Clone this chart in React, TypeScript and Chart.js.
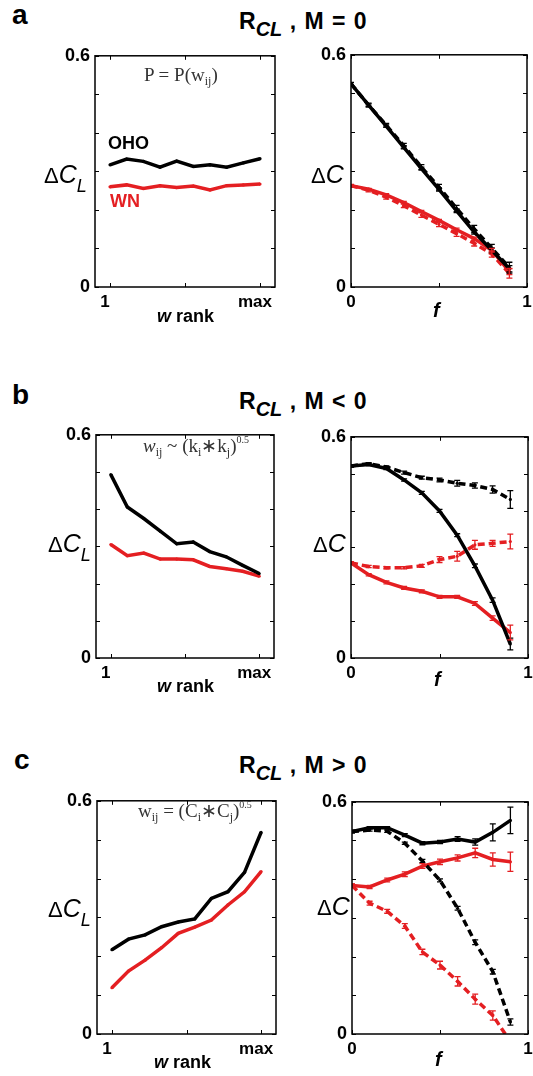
import React, { useEffect, useRef } from 'react';
import { Chart, registerables } from 'chart.js';

Chart.register(...registerables);

// ---------------- data ----------------
const RANK = [1, 2, 3, 4, 5, 6, 7, 8, 9, 10];
const FRAC = [0, 0.1, 0.2, 0.3, 0.4, 0.5, 0.6, 0.7, 0.8, 0.9];

const Y_TICKS = [0, 0.1, 0.2, 0.3, 0.4, 0.5, 0.6];
const Y_TICK_LABELS = ['0', '', '', '', '', '', '0.6'];
const RANK_TICKS = [1, 5.5, 10];
const RANK_TICK_LABELS = ['1', '', 'max'];
const F_TICKS = [0, 0.5, 1];
const F_TICK_LABELS = ['0', '', '1'];

// panel a (M = 0)
const A_RANK_OHO = [0.317, 0.332, 0.326, 0.311, 0.327, 0.313, 0.317, 0.311, 0.322, 0.333];
const A_RANK_WN = [0.26, 0.265, 0.256, 0.263, 0.258, 0.262, 0.252, 0.263, 0.265, 0.267];
const A_F_OHO_DASH = [0.525, 0.47, 0.418, 0.365, 0.31, 0.258, 0.203, 0.15, 0.1, 0.05];
const A_F_OHO_DASH_ERR = [0.004, 0.005, 0.005, 0.006, 0.006, 0.007, 0.008, 0.009, 0.01, 0.014];
const A_F_OHO_SOLID = [0.525, 0.47, 0.416, 0.361, 0.306, 0.252, 0.197, 0.142, 0.095, 0.047];
const A_F_OHO_SOLID_ERR = [0.003, 0.003, 0.003, 0.004, 0.004, 0.004, 0.005, 0.005, 0.006, 0.008];
const A_F_WN_DASH = [0.262, 0.25, 0.232, 0.21, 0.186, 0.162, 0.138, 0.113, 0.085, 0.035];
const A_F_WN_DASH_ERR = [0.003, 0.004, 0.005, 0.005, 0.006, 0.006, 0.007, 0.007, 0.008, 0.012];
const A_F_WN_SOLID = [0.262, 0.253, 0.238, 0.218, 0.195, 0.172, 0.148, 0.125, 0.095, 0.04];
const A_F_WN_SOLID_ERR = [0.002, 0.002, 0.003, 0.003, 0.003, 0.003, 0.004, 0.004, 0.005, 0.008];

// panel b (M < 0)
const B_RANK_OHO = [0.493, 0.406, 0.375, 0.341, 0.307, 0.312, 0.286, 0.272, 0.249, 0.227];
const B_RANK_WN = [0.305, 0.275, 0.282, 0.266, 0.266, 0.264, 0.246, 0.24, 0.233, 0.22];
const B_F_OHO_DASH = [0.521, 0.527, 0.518, 0.503, 0.489, 0.483, 0.474, 0.468, 0.457, 0.43];
const B_F_OHO_DASH_ERR = [0.003, 0.003, 0.003, 0.004, 0.004, 0.005, 0.008, 0.007, 0.01, 0.024];
const B_F_OHO_SOLID = [0.521, 0.525, 0.514, 0.483, 0.448, 0.399, 0.333, 0.25, 0.157, 0.038];
const B_F_OHO_SOLID_ERR = [0.003, 0.003, 0.003, 0.003, 0.004, 0.004, 0.004, 0.005, 0.006, 0.016];
const B_F_WN_DASH = [0.258, 0.248, 0.245, 0.245, 0.25, 0.267, 0.276, 0.307, 0.311, 0.316];
const B_F_WN_DASH_ERR = [0.003, 0.003, 0.003, 0.003, 0.004, 0.008, 0.013, 0.012, 0.008, 0.02];
const B_F_WN_SOLID = [0.258, 0.226, 0.205, 0.19, 0.181, 0.166, 0.166, 0.148, 0.108, 0.069];
const B_F_WN_SOLID_ERR = [0.003, 0.003, 0.004, 0.004, 0.004, 0.004, 0.004, 0.005, 0.006, 0.02];

// panel c (M > 0)
const C_RANK_OHO = [0.217, 0.244, 0.255, 0.276, 0.288, 0.296, 0.349, 0.366, 0.416, 0.519];
const C_RANK_WN = [0.119, 0.162, 0.19, 0.222, 0.259, 0.275, 0.293, 0.332, 0.366, 0.418];
const C_F_OHO_DASH = [0.523, 0.527, 0.524, 0.493, 0.447, 0.397, 0.325, 0.237, 0.161, 0.031];
const C_F_OHO_DASH_ERR = [0.003, 0.003, 0.003, 0.003, 0.004, 0.004, 0.005, 0.006, 0.006, 0.008];
const C_F_OHO_SOLID = [0.523, 0.533, 0.533, 0.514, 0.493, 0.496, 0.504, 0.496, 0.521, 0.552];
const C_F_OHO_SOLID_ERR = [0.003, 0.003, 0.003, 0.004, 0.004, 0.004, 0.006, 0.008, 0.022, 0.034];
const C_F_WN_DASH = [0.384, 0.338, 0.317, 0.279, 0.212, 0.178, 0.136, 0.09, 0.048, -0.02];
const C_F_WN_DASH_ERR = [0.003, 0.005, 0.005, 0.006, 0.007, 0.01, 0.012, 0.013, 0.012, 0.01];
const C_F_WN_SOLID = [0.384, 0.38, 0.398, 0.413, 0.434, 0.445, 0.455, 0.468, 0.451, 0.445];
const C_F_WN_SOLID_ERR = [0.004, 0.004, 0.005, 0.006, 0.006, 0.007, 0.008, 0.012, 0.017, 0.025];

// ---------------- styling ----------------
const BLACK = '#000000';
const RED = '#e41f22';
const SANS = 'Arial, "Liberation Sans", Helvetica, sans-serif';
const SERIF = '"Times New Roman", "Liberation Serif", serif';

type Series = { values: number[]; err?: number[]; color: string; dashed?: boolean };
type Box = { x: number; y: number; w: number; h: number };

const AXIS_W = 50;
const AXIS_H = 30;
const PAD_T = 10;
const PAD_R = 10;

const boxPlugin = {
  id: 'matlabBox',
  afterDraw(chart: any) {
    const { ctx, chartArea: a, scales } = chart;
    const xs = scales.x;
    const ys = scales.y;
    ctx.save();
    ctx.setLineDash([]);
    ctx.strokeStyle = '#000';
    ctx.lineWidth = 1.5;
    ctx.strokeRect(a.left, a.top, a.right - a.left, a.bottom - a.top);
    ctx.lineWidth = 1;
    const L = 4;
    ctx.beginPath();
    xs.ticks.forEach((t: any) => {
      const px = Math.round(xs.getPixelForValue(t.value)) + 0.5;
      ctx.moveTo(px, a.bottom);
      ctx.lineTo(px, a.bottom - L);
      ctx.moveTo(px, a.top);
      ctx.lineTo(px, a.top + L);
    });
    ys.ticks.forEach((t: any) => {
      const py = Math.round(ys.getPixelForValue(t.value)) + 0.5;
      ctx.moveTo(a.left, py);
      ctx.lineTo(a.left + L, py);
      ctx.moveTo(a.right, py);
      ctx.lineTo(a.right - L, py);
    });
    ctx.stroke();
    ctx.restore();
  },
};

const errPlugin = {
  id: 'errorBars',
  afterDatasetsDraw(chart: any) {
    const { ctx, chartArea: a, scales } = chart;
    const xs = scales.x;
    const ys = scales.y;
    ctx.save();
    ctx.beginPath();
    ctx.rect(a.left, a.top, a.right - a.left, a.bottom - a.top);
    ctx.clip();
    chart.data.datasets.forEach((ds: any) => {
      const e: number[] | undefined = ds.errors;
      if (!e) return;
      ctx.setLineDash([]);
      ctx.strokeStyle = ds.borderColor;
      ctx.lineWidth = 1.3;
      ds.data.forEach((p: any, i: number) => {
        const px = xs.getPixelForValue(p.x);
        const y1 = ys.getPixelForValue(p.y + e[i]);
        const y2 = ys.getPixelForValue(p.y - e[i]);
        ctx.beginPath();
        ctx.moveTo(px, y1);
        ctx.lineTo(px, y2);
        ctx.moveTo(px - 3, y1);
        ctx.lineTo(px + 3, y1);
        ctx.moveTo(px - 3, y2);
        ctx.lineTo(px + 3, y2);
        ctx.stroke();
      });
    });
    ctx.restore();
  },
};

type PanelProps = {
  box: Box;
  xs: number[];
  xMin: number;
  xMax: number;
  xTicks: number[];
  xTickLabels: string[];
  labelOffset: number;
  series: Series[];
};

function Panel({ box, xs, xMin, xMax, xTicks, xTickLabels, labelOffset, series }: PanelProps) {
  const ref = useRef<HTMLCanvasElement | null>(null);
  const cw = box.w + AXIS_W + PAD_R;
  const ch = box.h + PAD_T + AXIS_H;
  useEffect(() => {
    if (!ref.current) return;
    const chart = new Chart(ref.current, {
      type: 'line',
      data: {
        datasets: series.map((s) => ({
          data: xs.map((x, i) => ({ x, y: s.values[i] })),
          borderColor: s.color,
          backgroundColor: s.color,
          borderWidth: 3.5,
          borderDash: s.dashed ? [7, 4] : [],
          pointRadius: 1.6,
          pointBorderWidth: 0,
          pointBackgroundColor: s.color,
          tension: 0,
          fill: false,
          clip: 0,
          errors: s.err,
        })) as any,
      },
      options: {
        animation: false,
        responsive: false,
        events: [],
        layout: { padding: { left: 0, top: PAD_T, right: PAD_R, bottom: 0 } },
        plugins: { legend: { display: false }, tooltip: { enabled: false } },
        scales: {
          x: {
            type: 'linear',
            min: xMin,
            max: xMax,
            grid: { display: false, drawTicks: false },
            border: { display: false },
            afterBuildTicks: (s: any) => {
              s.ticks = xTicks.map((v) => ({ value: v }));
            },
            afterFit: (s: any) => {
              s.height = AXIS_H;
            },
            ticks: {
              autoSkip: false,
              maxRotation: 0,
              padding: 5,
              labelOffset,
              color: '#000',
              font: { family: SANS, size: 17, weight: 'bold' },
              callback: (_v: any, i: number) => xTickLabels[i],
            },
          },
          y: {
            type: 'linear',
            min: 0,
            max: 0.6,
            grid: { display: false, drawTicks: false },
            border: { display: false },
            afterBuildTicks: (s: any) => {
              s.ticks = Y_TICKS.map((v) => ({ value: v }));
            },
            afterFit: (s: any) => {
              s.width = AXIS_W;
            },
            ticks: {
              autoSkip: false,
              padding: 5,
              color: '#000',
              font: { family: SANS, size: 18, weight: 'bold' },
              callback: (_v: any, i: number) => Y_TICK_LABELS[i],
            },
          },
        },
      } as any,
      plugins: [errPlugin, boxPlugin],
    });
    return () => chart.destroy();
  }, []);
  return (
    <canvas
      ref={ref}
      width={cw}
      height={ch}
      style={{ position: 'absolute', left: box.x - AXIS_W, top: box.y - PAD_T, width: cw, height: ch, display: 'block' }}
    />
  );
}

function T({ x, b, size, children, style }: any) {
  return (
    <div
      style={{
        position: 'absolute',
        left: x,
        top: b - 0.8465 * size,
        fontSize: size,
        lineHeight: `${size}px`,
        whiteSpace: 'nowrap',
        fontFamily: SANS,
        color: '#000',
        ...style,
      }}
    >
      {children}
    </div>
  );
}

function Sub({ size, dy, children, style }: any) {
  return (
    <span style={{ fontSize: size, position: 'relative', top: dy, lineHeight: 0, ...style }}>{children}</span>
  );
}

function Title({ b, rel }: { b: number; rel: string }) {
  return (
    <T x={239} b={b} size={23} style={{ fontWeight: 'bold' }}>
      R
      <Sub size={20} dy={7} style={{ fontStyle: 'italic' }}>
        CL
      </Sub>
      <span style={{ letterSpacing: 1 }}>{' , M ' + rel + ' 0'}</span>
    </T>
  );
}

function DeltaCL({ x, b }: { x: number; b: number }) {
  return (
    <T x={x} b={b} size={25}>
      <span style={{ fontSize: 22, lineHeight: 0 }}>Δ</span>
      <span style={{ fontStyle: 'italic' }}>C</span>
      <Sub size={18} dy={9} style={{ fontStyle: 'italic' }}>
        L
      </Sub>
    </T>
  );
}

function DeltaC({ x, b }: { x: number; b: number }) {
  return (
    <T x={x} b={b} size={25}>
      <span style={{ fontSize: 22, lineHeight: 0 }}>Δ</span>
      <span style={{ fontStyle: 'italic' }}>C</span>
    </T>
  );
}

function WRank({ x, b }: { x: number; b: number }) {
  return (
    <T x={x} b={b} size={18} style={{ fontWeight: 'bold' }}>
      <i>w</i> rank
    </T>
  );
}

function FLabel({ x, b }: { x: number; b: number }) {
  return (
    <T x={x} b={b} size={20} style={{ fontWeight: 'bold', fontStyle: 'italic' }}>
      f
    </T>
  );
}

const RANK_AXIS = { xs: RANK, xMin: 0.1, xMax: 10.9, xTicks: RANK_TICKS, xTickLabels: RANK_TICK_LABELS, labelOffset: -5 };
const F_AXIS = { xs: FRAC, xMin: 0, xMax: 1, xTicks: F_TICKS, xTickLabels: F_TICK_LABELS, labelOffset: 0 };

export default function App() {
  const annot = { fontFamily: SERIF, color: '#333' };
  return (
    <div style={{ position: 'absolute', left: 0, top: 0, width: 533, height: 1076, background: '#fff', overflow: 'hidden' }}>
      {/* panel a */}
      <T x={12} b={25} size={28} style={{ fontWeight: 'bold' }}>a</T>
      <Title b={29} rel="=" />
      <Panel
        box={{ x: 95, y: 50, w: 180, h: 237 }}
        {...RANK_AXIS}
        series={[
          { values: A_RANK_OHO, color: BLACK },
          { values: A_RANK_WN, color: RED },
        ]}
      />
      <Panel
        box={{ x: 351, y: 49, w: 176, h: 238 }}
        {...F_AXIS}
        series={[
          { values: A_F_OHO_DASH, err: A_F_OHO_DASH_ERR, color: BLACK, dashed: true },
          { values: A_F_OHO_SOLID, err: A_F_OHO_SOLID_ERR, color: BLACK },
          { values: A_F_WN_DASH, err: A_F_WN_DASH_ERR, color: RED, dashed: true },
          { values: A_F_WN_SOLID, err: A_F_WN_SOLID_ERR, color: RED },
        ]}
      />
      <T x={144} b={81} size={19} style={annot}>
        P = P(w<Sub size={12} dy={4}>ij</Sub>)
      </T>
      <T x={108} b={149} size={18} style={{ fontWeight: 'bold' }}>OHO</T>
      <T x={110} b={207} size={18} style={{ fontWeight: 'bold', color: RED }}>WN</T>
      <DeltaCL x={44} b={183} />
      <DeltaC x={311} b={183} />
      <WRank x={157} b={322} />
      <FLabel x={433} b={317} />

      {/* panel b */}
      <T x={12} b={405} size={28} style={{ fontWeight: 'bold' }}>b</T>
      <Title b={409} rel="<" />
      <Panel
        box={{ x: 96, y: 429, w: 178, h: 229 }}
        {...RANK_AXIS}
        series={[
          { values: B_RANK_OHO, color: BLACK },
          { values: B_RANK_WN, color: RED },
        ]}
      />
      <Panel
        box={{ x: 351, y: 431, w: 177, h: 227 }}
        {...F_AXIS}
        series={[
          { values: B_F_OHO_DASH, err: B_F_OHO_DASH_ERR, color: BLACK, dashed: true },
          { values: B_F_OHO_SOLID, err: B_F_OHO_SOLID_ERR, color: BLACK },
          { values: B_F_WN_DASH, err: B_F_WN_DASH_ERR, color: RED, dashed: true },
          { values: B_F_WN_SOLID, err: B_F_WN_SOLID_ERR, color: RED },
        ]}
      />
      <T x={143} b={452} size={19} style={annot}>
        <i>w</i>
        <Sub size={12} dy={4}>ij</Sub> ~ (k<Sub size={12} dy={4}>i</Sub>∗k<Sub size={12} dy={4}>j</Sub>)
        <Sub size={10} dy={-9}>0.5</Sub>
      </T>
      <DeltaCL x={48} b={552} />
      <DeltaC x={313} b={552} />
      <WRank x={157} b={692} />
      <FLabel x={434} b={686} />

      {/* panel c */}
      <T x={14} b={770} size={28} style={{ fontWeight: 'bold' }}>c</T>
      <Title b={773} rel=">" />
      <Panel
        box={{ x: 97, y: 795, w: 179, h: 239 }}
        {...RANK_AXIS}
        series={[
          { values: C_RANK_OHO, color: BLACK },
          { values: C_RANK_WN, color: RED },
        ]}
      />
      <Panel
        box={{ x: 352, y: 796, w: 176, h: 238 }}
        {...F_AXIS}
        series={[
          { values: C_F_OHO_DASH, err: C_F_OHO_DASH_ERR, color: BLACK, dashed: true },
          { values: C_F_OHO_SOLID, err: C_F_OHO_SOLID_ERR, color: BLACK },
          { values: C_F_WN_DASH, err: C_F_WN_DASH_ERR, color: RED, dashed: true },
          { values: C_F_WN_SOLID, err: C_F_WN_SOLID_ERR, color: RED },
        ]}
      />
      <T x={138} b={817} size={19} style={annot}>
        w<Sub size={12} dy={4}>ij</Sub> = (C<Sub size={12} dy={4}>i</Sub>∗C<Sub size={12} dy={4}>j</Sub>)
        <Sub size={10} dy={-9}>0.5</Sub>
      </T>
      <DeltaCL x={48} b={917} />
      <DeltaC x={317} b={915} />
      <WRank x={154} b={1068} />
      <FLabel x={435} b={1066} />
    </div>
  );
}
